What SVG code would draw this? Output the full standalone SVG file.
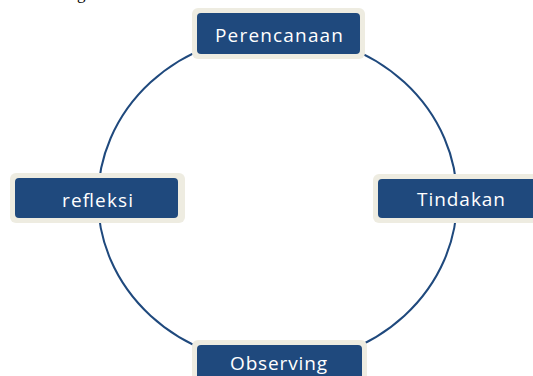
<svg xmlns="http://www.w3.org/2000/svg" width="533" height="376" viewBox="0 0 533 376">
<style>
.frame{fill:#EEECE1;}
.box{fill:#1F497D;}
.lbl{font-family:"Open Sans","Noto Sans",sans-serif;font-size:19px;fill:#FFFFFF;text-anchor:middle;}
.conn{fill:none;stroke:#1F497D;stroke-width:2;}
</style>
<rect width="533" height="376" fill="#FFFFFF"/>
<text x="77" y="-1" font-family="Liberation Serif,serif" font-size="17" fill="#000">g</text>
<g id="connectors">
<ellipse class="conn" cx="277.5" cy="199" rx="179.5" ry="165"/>
</g>
<g id="perencanaan">
<rect class="frame" x="192" y="8" width="173" height="51" rx="6"/>
<rect class="box" x="197" y="13" width="163" height="41" rx="4"/>
<text class="lbl" x="279" y="42" textLength="128" lengthAdjust="spacing">Perencanaan</text>
</g>
<g id="refleksi">
<rect class="frame" x="10" y="173" width="175" height="50" rx="6"/>
<rect class="box" x="15" y="178" width="163" height="40" rx="4"/>
<text class="lbl" x="97.5" y="207" textLength="71" lengthAdjust="spacing">refleksi</text>
</g>
<g id="tindakan">
<rect class="frame" x="373" y="174" width="175" height="49" rx="6"/>
<rect class="box" x="378" y="179" width="170" height="39" rx="4"/>
<text class="lbl" x="461" y="206" textLength="88" lengthAdjust="spacing">Tindakan</text>
</g>
<g id="observing">
<rect class="frame" x="192" y="340" width="175" height="50" rx="6"/>
<rect class="box" x="197" y="345" width="165" height="45" rx="4"/>
<text class="lbl" x="278.5" y="370" textLength="97" lengthAdjust="spacing">Observing</text>
</g>
</svg>
